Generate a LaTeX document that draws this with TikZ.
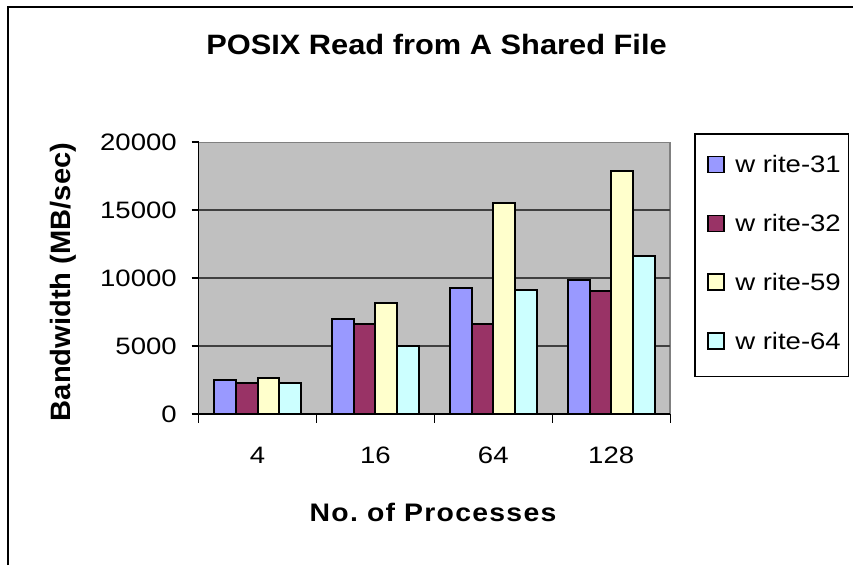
\documentclass[tikz,border=0pt]{standalone}
\usepackage{fontspec}
\setmainfont{Liberation Sans}
\newfontfamily\chartfont[FakeStretch=1.16]{Liberation Sans}
\newfontfamily\titlefont[FakeStretch=1.10]{Liberation Sans}
\newfontfamily\ytitlefont[FakeStretch=1.04]{Liberation Sans}
\newfontfamily\xtitlefont[FakeStretch=1.12,LetterSpace=5]{Liberation Sans}
\usetikzlibrary{positioning}
\definecolor{plotgray}{HTML}{C0C0C0}
\definecolor{serA}{HTML}{9999FF}
\definecolor{serB}{HTML}{993366}
\definecolor{serC}{HTML}{FFFFCC}
\definecolor{serD}{HTML}{CCFFFF}

\begin{document}
\begin{tikzpicture}[
    x=0.75pt, y=-0.75pt,
    bar/.style={draw=black, line width=1.5pt},
    gridline/.style={draw=black!75, line width=0.8pt},
    axisline/.style={draw=black, line width=0.8pt},
    ticklabel/.style={font=\chartfont\fontsize{17.8}{20}\selectfont, inner sep=0pt},
    legendtext/.style={font=\chartfont\fontsize{17.8}{20}\selectfont, inner sep=0pt, anchor=west}
]
    \useasboundingbox (0,0) rectangle (853,565);
    \fill[white] (0,0) rectangle (853,565);
    % chart frame (cut at right and bottom)
    \draw[line width=1.5pt] (8,565) -- (8,7) -- (853,7);

    % plot area
    \fill[plotgray] (198.5,142.3) rectangle (670,414);
    \draw[draw=black!50, line width=1.2pt] (198.5,142.3) -- (670,142.3) -- (670,414);
    \foreach \v in {1,2,3}
        \draw[gridline] (198.5,414-\v*68) -- (670,414-\v*68);

    % bars: series A..D per group, values in thousands of MB/sec
    \foreach \a/\b/\c/\d [count=\i from 0] in
        {2.50/2.30/2.67/2.28, 6.96/6.59/8.14/5.02,
         9.29/6.59/15.51/9.10, 9.88/9.07/17.85/11.62}{
        \pgfmathsetmacro{\xl}{198.5+\i*117.9+15.6}
        \filldraw[bar, fill=serA] (\xl,414) rectangle ++(21.7,-\a*13.6);
        \filldraw[bar, fill=serB] (\xl+21.7,414) rectangle ++(21.7,-\b*13.6);
        \filldraw[bar, fill=serC] (\xl+43.4,414) rectangle ++(21.7,-\c*13.6);
        \filldraw[bar, fill=serD] (\xl+65.1,414) rectangle ++(21.7,-\d*13.6);
    }

    % axes
    \draw[axisline] (198.5,142.3) -- (198.5,414) -- (670,414);
    \foreach \v [count=\k from 0] in {0,5000,10000,15000,20000}{
        \draw[axisline] (191.5,414-\k*68) -- (198.5,414-\k*68);
        \node[ticklabel, anchor=east] (ylab\k) at (177,414-\k*68) {\v};
    }
    \foreach \k in {0,...,4}
        \draw[axisline] (198.5+\k*117.9,414) -- (198.5+\k*117.9,423);
    \foreach \n [count=\k from 0] in {4,16,64,128}
        \node[ticklabel] (xlab\k) at (257.5+\k*117.9,455) {\n};

    % titles
    \node[font=\titlefont\fontsize{21}{24}\selectfont\bfseries, inner sep=0pt] (title) at (436.5,44) {POSIX Read from A Shared File};
    \node[font=\xtitlefont\fontsize{19}{22}\selectfont\bfseries, inner sep=0pt] (xtitle) at (433,512) {No.\ of Processes};
    \node[font=\ytitlefont\fontsize{21}{24}\selectfont\bfseries, inner sep=0pt, rotate=90] (ytitle) at (63,282) {Bandwidth (MB/sec)};

    % legend
    \draw[line width=0.8pt] (695,134) rectangle (848.3,376.7);
    \foreach \col/\lab [count=\k from 0] in {serA/31, serB/32, serC/59, serD/64}{
        \filldraw[bar, line width=1.2pt, fill=\col] (708,156.5+\k*58.8) rectangle ++(16,16);
        \node[legendtext] (leg\k) at (735,164.5+\k*58.8) {w rite-\lab};
    }
\end{tikzpicture}
\end{document}
